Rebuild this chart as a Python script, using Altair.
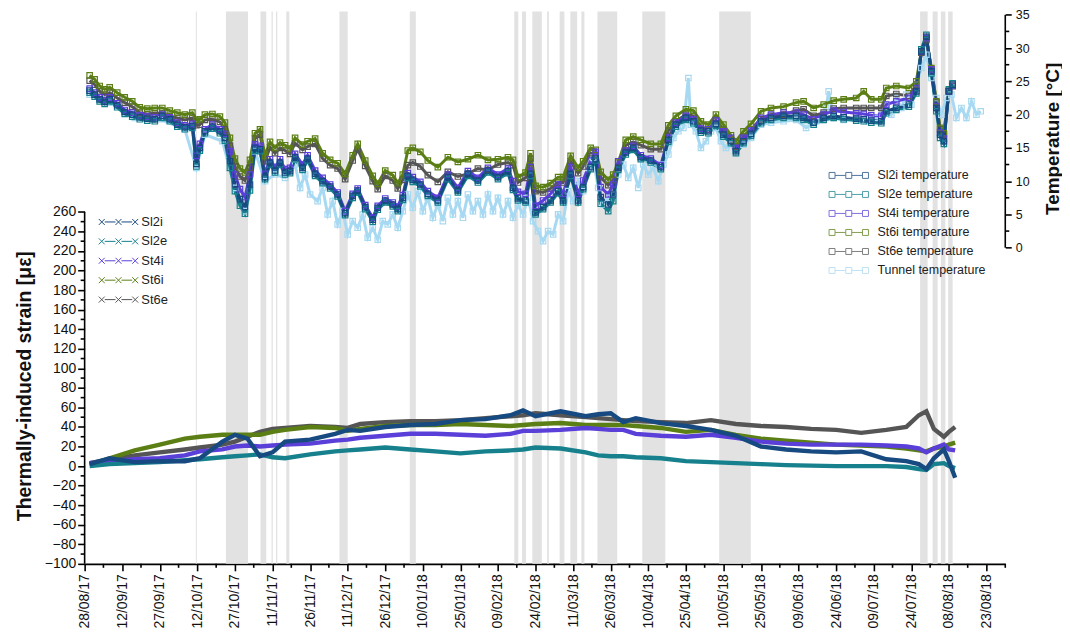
import altair as alt
import pandas as pd

# ---------------- data ----------------
START = (2017, 8, 28)  # day 0 of the x axis (28/08/17)

# temperature sampling days (days since 28/08/17)
T_DAYS = [2, 4, 6, 8, 10, 13, 16, 19, 22, 25,
          28, 31, 34, 37, 40, 43, 44.6, 46, 48, 51,
          54, 56, 58, 60, 62, 64, 66, 68, 70, 72,
          74, 76, 78, 80, 82, 84, 87, 89, 92, 95,
          98, 101, 104, 107, 109, 112, 115, 117, 120, 123,
          125, 127, 129, 131, 134, 137, 141, 145, 149, 153,
          157, 161, 165, 169, 171, 173, 176, 178, 180, 183,
          186, 189, 191, 194, 197, 199, 202, 204, 206, 209,
          211, 213, 216, 219, 222, 226, 230, 233, 236, 240,
          243, 246, 249, 252, 255, 258, 260, 263, 266, 270,
          274, 279, 284, 287, 291, 295, 299, 303, 308, 311,
          314, 318, 320, 324, 329, 332, 334, 336, 338, 340,
          341.5, 343, 345, 346.5]

SL2I_TEMP = [23.6, 23.0, 22.3, 21.9, 22.3, 21.4, 20.4, 20.0, 19.6, 19.4,
             19.3, 19.8, 19.3, 18.5, 18.1, 18.3, 12.6, 15.0, 17.5, 18.2,
             17.5, 16.5, 13.0, 9.5, 7.3, 6.1, 9.5, 15.0, 14.8, 10.6,
             12.8, 11.6, 12.8, 11.3, 11.5, 13.6, 12.0, 13.4, 11.1, 10.0,
             9.2, 8.0, 5.2, 7.8, 8.6, 6.1, 4.2, 6.0, 7.1, 6.5,
             5.8, 7.5, 10.8, 10.2, 9.5, 8.1, 7.1, 10.6, 8.6, 11.1,
             10.1, 11.6, 10.6, 11.5, 9.0, 7.4, 7.1, 11.1, 5.3, 6.1,
             7.1, 8.5, 7.1, 11.1, 7.1, 9.1, 12.1, 13.4, 7.6, 6.5,
             8.0, 12.0, 14.3, 15.0, 13.6, 13.1, 12.1, 16.2, 18.5, 19.5,
             19.0, 17.6, 17.5, 18.6, 17.0, 16.0, 14.5, 16.0, 17.1, 19.0,
             19.5, 19.8, 19.8, 19.5, 18.8, 19.5, 19.8, 19.6, 19.4, 19.3,
             19.1, 19.0, 20.5, 21.0, 21.5, 23.5, 29.5, 31.7, 26.5, 21.0,
             17.0, 16.0, 23.5, 24.5]

SL2E_TEMP = [23.3, 22.7, 22.0, 21.6, 22.0, 21.1, 20.1, 19.7, 19.3, 19.1,
             19.0, 19.5, 19.0, 18.2, 17.8, 18.0, 12.2, 14.6, 17.2, 17.9,
             17.2, 16.1, 12.0, 8.5, 6.3, 5.1, 8.6, 14.6, 14.5, 10.3,
             12.5, 11.3, 12.5, 11.0, 11.2, 13.3, 11.7, 13.1, 10.8, 9.7,
             8.9, 7.7, 4.9, 7.5, 8.3, 5.8, 3.9, 5.7, 6.8, 6.2,
             5.5, 7.2, 10.5, 9.9, 9.2, 7.8, 6.8, 10.3, 8.3, 10.8,
             9.8, 11.3, 10.3, 11.2, 8.7, 7.1, 6.8, 10.8, 5.0, 5.8,
             6.8, 8.2, 6.8, 10.8, 6.8, 8.8, 11.8, 13.1, 6.6, 5.5,
             7.0, 11.7, 14.0, 14.7, 13.3, 12.8, 11.8, 15.9, 18.2, 19.2,
             18.7, 17.3, 17.2, 18.3, 16.7, 15.7, 14.2, 15.7, 16.8, 18.7,
             19.2, 19.5, 19.5, 19.2, 18.5, 19.2, 19.5, 19.3, 19.1, 19.0,
             18.8, 18.7, 20.2, 20.7, 21.2, 23.2, 29.8, 32.0, 26.2, 20.5,
             16.5, 15.6, 23.8, 24.7]

ST4I_TEMP = [23.9, 23.3, 22.6, 22.2, 22.6, 21.7, 20.7, 20.3, 19.9, 19.7,
             19.6, 20.1, 19.6, 18.8, 18.4, 18.6, 13.8, 15.6, 17.8, 18.5,
             17.8, 17.1, 14.5, 11.0, 8.8, 7.6, 11.0, 15.5, 15.3, 11.1,
             13.3, 12.1, 13.3, 11.8, 12.0, 14.1, 12.5, 13.9, 11.6, 10.5,
             9.5, 8.3, 5.5, 8.1, 8.9, 6.4, 4.5, 6.3, 7.4, 6.8,
             6.2, 7.9, 11.2, 10.6, 9.9, 8.5, 7.5, 11.0, 9.0, 11.5,
             10.5, 12.0, 11.0, 11.9, 10.0, 8.4, 8.1, 12.1, 6.3, 7.1,
             8.1, 9.5, 8.1, 12.1, 8.1, 10.1, 13.1, 14.4, 9.1, 8.0,
             9.5, 13.0, 14.6, 15.3, 13.9, 13.4, 12.4, 16.5, 18.8, 19.8,
             19.3, 17.9, 17.8, 19.1, 17.5, 16.5, 15.0, 16.5, 17.6, 19.5,
             20.0, 20.3, 20.3, 20.0, 19.3, 20.0, 20.6, 20.4, 20.2, 20.1,
             19.9, 19.8, 21.5, 22.0, 22.5, 24.0, 29.5, 31.5, 26.8, 21.3,
             17.3, 16.4, 23.5, 24.3]

ST6I_TEMP = [25.9, 25.3, 24.3, 23.8, 24.1, 23.3, 22.6, 22.0, 21.1, 20.9,
             21.0, 21.0, 20.6, 20.3, 20.0, 20.3, 19.2, 19.3, 20.0, 20.1,
             19.7, 18.8, 16.5, 13.4, 11.9, 11.3, 13.2, 17.2, 17.8, 13.8,
             15.9, 15.0, 15.8, 15.4, 14.9, 16.5, 15.5, 16.0, 16.4, 14.2,
             13.2, 12.7, 11.1, 13.9, 15.6, 13.1, 10.8, 9.6, 11.6, 10.9,
             9.7, 11.0, 14.6, 15.0, 14.4, 13.1, 12.1, 13.6, 12.9, 13.3,
             13.9, 13.2, 13.3, 13.6, 13.2, 10.6, 11.3, 14.2, 9.3, 9.1,
             9.7, 10.6, 10.6, 13.8, 12.0, 13.0, 15.0, 14.7, 11.4, 10.2,
             11.0, 12.8, 16.2, 16.7, 16.2, 15.6, 15.6, 18.4, 19.8, 20.8,
             20.6, 19.0, 18.5, 20.0, 18.5, 16.9, 16.0, 17.5, 18.6, 20.5,
             21.0, 21.2, 21.8, 22.0, 21.0, 21.5, 22.1, 22.3, 22.5, 23.5,
             22.3, 22.3, 24.0, 24.3, 24.0, 25.0, 29.5, 31.5, 27.0, 22.0,
             18.0, 17.2, 23.5, 24.3]

ST6E_TEMP = [25.1, 24.5, 23.5, 23.0, 23.3, 22.5, 21.8, 21.2, 20.3, 20.1,
             20.2, 20.2, 19.8, 19.5, 19.2, 19.5, 18.4, 18.5, 19.2, 19.3,
             18.9, 17.8, 15.3, 12.2, 10.7, 10.1, 12.0, 16.4, 17.0, 13.0,
             15.1, 14.2, 15.0, 14.6, 14.1, 15.7, 14.7, 15.2, 15.6, 13.4,
             12.4, 11.9, 10.3, 13.1, 14.8, 12.3, 10.0, 8.8, 10.8, 10.1,
             8.9, 10.2, 12.4, 12.8, 12.2, 10.9, 9.9, 11.4, 10.7, 11.1,
             11.9, 11.7, 12.5, 12.8, 12.4, 9.8, 10.5, 13.4, 8.5, 8.3,
             8.9, 9.8, 9.8, 13.0, 11.2, 12.2, 14.2, 13.9, 10.6, 9.4,
             10.2, 12.0, 15.4, 15.9, 15.4, 14.8, 14.8, 17.6, 19.0, 20.0,
             19.8, 18.2, 17.7, 19.2, 17.7, 16.1, 15.2, 16.7, 17.8, 19.3,
             19.8, 20.0, 20.6, 20.8, 19.8, 20.3, 20.9, 21.0, 21.0, 21.0,
             21.0, 21.0, 22.8, 23.1, 22.8, 24.5, 29.3, 31.2, 26.8, 21.8,
             17.8, 17.0, 23.6, 24.3]

TUNNEL_DAYS = [2, 10, 20, 30, 40, 44.6, 48, 55, 60, 64,
               68, 72, 76, 80, 84, 86, 88, 90, 93, 95,
               97, 99, 101, 103, 105, 107, 109, 111, 113, 115,
               117, 119, 121, 123, 125, 127, 129, 131, 133, 135,
               137, 139, 141, 143, 145, 147, 149, 151, 153, 155,
               157, 159, 161, 163, 165, 167, 169, 171, 173, 175,
               177, 179, 181, 183, 185, 187, 189, 191, 193, 195,
               197, 199, 201, 203, 205, 207, 209, 211, 213, 215,
               217, 219, 221, 223, 225, 227, 229, 231, 233, 235,
               237, 239, 241, 242, 244, 246, 248, 250, 252, 254,
               256, 258, 260, 263, 266, 270, 274, 279, 284, 288,
               292, 296, 297, 299, 303, 308, 312, 316, 320, 322,
               324, 326, 328, 330, 332, 334, 336, 338, 340, 342,
               344, 346, 348, 350, 352, 354, 356, 357.7]

TUNNEL_TEMP = [23.0, 21.8, 19.5, 19.3, 17.8, 12.0, 17.0, 16.0, 9.0, 5.5,
               14.5, 10.0, 11.0, 10.5, 12.5, 9.0, 11.0, 8.0, 7.0, 9.0,
               5.0, 7.0, 3.5, 5.5, 2.0, 4.0, 3.0, 5.0, 1.5, 3.0,
               1.2, 4.0, 3.5, 5.0, 3.0, 5.5, 8.0, 6.0, 8.5, 5.5,
               7.5, 4.5, 6.5, 4.0, 7.5, 5.0, 7.0, 4.5, 8.0, 5.5,
               7.0, 5.0, 8.0, 5.5, 7.5, 5.0, 7.0, 4.5, 6.5, 5.0,
               7.5, 4.0, 2.5, 1.0, 2.5, 2.0, 5.0, 4.0, 8.5, 7.0,
               10.0, 8.5, 12.0, 13.5, 9.0, 6.5, 7.5, 8.0, 11.0, 12.5,
               10.5, 12.0, 9.0, 12.5, 11.0, 12.0, 10.0, 12.5, 14.0, 16.5,
               17.5, 18.0, 25.5, 18.5, 17.5, 15.0, 16.0, 17.5, 18.0, 16.0,
               15.0, 15.5, 14.5, 15.5, 16.5, 18.5, 18.8, 19.0, 19.2, 18.0,
               19.0, 21.0, 23.5, 19.5, 19.2, 19.3, 19.0, 19.5, 21.5, 20.0,
               22.5, 21.0, 23.0, 21.5, 24.5, 27.0, 29.0, 25.5, 22.5, 20.0,
               22.5, 23.0, 19.5, 21.0, 19.5, 22.0, 20.0, 20.5]

# strain sampling days
S_DAYS = [2, 10, 20, 30, 40, 46, 55, 60, 65, 70,
          75, 80, 90, 100, 105, 110, 120, 130, 140, 150,
          160, 170, 175, 180, 190, 200, 205, 210, 215, 220,
          230, 240, 250, 260, 270, 280, 290, 300, 310, 320,
          328, 333, 336, 339, 343, 345, 347.5]

SL2I_STRAIN = [2, 8, 4, 5, 5, 8, 25, 32, 28, 10,
               14, 25, 27, 33, 37, 36, 40, 42, 43, 47,
               48, 52, 57, 51, 56, 51, 53, 54, 45, 49,
               44, 41, 37, 31, 20, 17, 15, 14, 15, 7,
               5, 2, -3, 8, 17, 5, -12]
SL2E_STRAIN = [0, 2, 3, 4, 6, 7, 9, 10, 11, 12,
               9, 8, 12, 15, 16, 17, 19, 17, 15, 13,
               15, 16, 17, 19, 18, 14, 11, 10, 10, 9,
               8, 5, 4, 3, 2, 1, 0.5, 0, 0, 0,
               -1, -3, -4, 2, 3, 0, -2]
ST4I_STRAIN = [3, 5, 7, 8, 11, 15, 17, 20, 21, 20,
               21, 22, 23, 26, 27, 29, 31, 33, 33, 32,
               31, 33, 36, 36, 37, 39, 38, 37, 37, 33,
               31, 30, 32, 29, 25, 23, 22, 22, 22, 21,
               20, 18, 14, 18, 22, 17, 16]
ST6I_STRAIN = [1, 8, 16, 22, 28, 30, 32, 32, 32, 32,
               35, 37, 40, 39, 36, 38, 41, 42, 42, 43,
               42, 41, 42, 43, 44, 42, 42, 42, 42, 41,
               39, 35, 37, 32, 28, 26, 24, 22, 21, 20,
               18, 16, 15, 18, 20, 22, 24]
ST6E_STRAIN = [3, 7, 11, 14, 17, 19, 22, 25, 30, 35,
               38, 39, 41, 40, 39, 43, 45, 46, 46, 47,
               49, 51, 52, 54, 52, 50, 49, 48, 47, 46,
               45, 44, 47, 43, 41, 40, 38, 37, 34, 37,
               40, 52, 56, 38, 30, 35, 40]

# shaded periods (days since 28/08/17)
BAND_START = [44.4, 56.4, 70.2, 74.6, 76.4, 80.5, 101.7, 129.8, 171.5, 174.6, 178.7,
              184.6, 189.6, 193.9, 198.3, 204.7, 222.6, 253.3, 333.5, 338.5, 341.8, 344.7]
BAND_END = [44.8, 65.2, 72.5, 75.1, 76.9, 81.7, 105.0, 132.2, 173.1, 176.2, 182.5,
            185.3, 191.5, 196.6, 199.5, 212.6, 231.8, 265.9, 336.5, 340.5, 343.6, 346.5]

STRAIN_NAMES = ["Sl2i", "Sl2e", "St4i", "St6i", "St6e"]
TEMP_NAMES = ["Sl2i temperature", "Sl2e temperature", "St4i temperature",
              "St6i temperature", "St6e temperature", "Tunnel temperature"]
SERIES_COLORS = ["#174a80", "#16808d", "#5a3fd8", "#5b7f14", "#555555"]
TUNNEL_COLOR = "#a7d9f2"

X_MAJOR = list(range(0, 361, 15))
X_MINOR = [7.5 + 15 * i for i in range(25)]
STRAIN_MAJOR = list(range(-100, 261, 20))
STRAIN_MINOR = list(range(-90, 251, 20))
TEMP_MAJOR = list(range(0, 36, 5))
TEMP_MINOR = [2.5 + 5 * i for i in range(7)]

for arr in (SL2I_TEMP, SL2E_TEMP, ST4I_TEMP, ST6I_TEMP, ST6E_TEMP):
    assert len(arr) == len(T_DAYS)
assert len(TUNNEL_TEMP) == len(TUNNEL_DAYS)
for arr in (SL2I_STRAIN, SL2E_STRAIN, ST4I_STRAIN, ST6I_STRAIN, ST6E_STRAIN):
    assert len(arr) == len(S_DAYS)

# ---------------- tables ----------------
W, H = 925, 555

temp_rows = []
temp_rows.append(pd.DataFrame({"day": TUNNEL_DAYS, "value": TUNNEL_TEMP, "series": TEMP_NAMES[5]}))
for name, vals in [(TEMP_NAMES[4], ST6E_TEMP), (TEMP_NAMES[3], ST6I_TEMP),
                   (TEMP_NAMES[2], ST4I_TEMP), (TEMP_NAMES[1], SL2E_TEMP),
                   (TEMP_NAMES[0], SL2I_TEMP)]:
    temp_rows.append(pd.DataFrame({"day": T_DAYS, "value": vals, "series": name}))
temp_df = pd.concat(temp_rows, ignore_index=True)

strain_rows = []
for name, vals in [("St6e", ST6E_STRAIN), ("St6i", ST6I_STRAIN), ("St4i", ST4I_STRAIN),
                   ("Sl2e", SL2E_STRAIN), ("Sl2i", SL2I_STRAIN)]:
    strain_rows.append(pd.DataFrame({"day": S_DAYS, "value": vals, "series": name}))
strain_df = pd.concat(strain_rows, ignore_index=True)

bands_df = pd.DataFrame({"day": BAND_START, "day_end": BAND_END})

# ---------------- scales / axes ----------------
x_scale = alt.Scale(domain=[0, 367.5], nice=False, zero=False)
strain_scale = alt.Scale(domain=[-100, 465], nice=False, zero=False)
temp_scale = alt.Scale(domain=[-47.5, 35.5], nice=False, zero=False)

label_expr = "utcFormat(utc(%d, %d, %d) + datum.value * 86400000, '%%d/%%m/%%y')" % (
    START[0], START[1] - 1, START[2])

x_axis = alt.Axis(values=X_MAJOR, labelExpr=label_expr, labelAngle=270, labelAlign="right",
                  labelBaseline="middle", labelFontSize=14, labelPadding=3, tickSize=7,
                  tickWidth=1.6, tickColor="black", domainColor="black", domainWidth=1.6,
                  grid=False, title=None)

left_axis = alt.Axis(orient="left", values=STRAIN_MAJOR, domain=False, tickSize=7, tickWidth=1.6,
                     tickColor="black", labelFontSize=14, labelPadding=2, grid=False,
                     title="Thermally-induced strain [με]", titleFontSize=19.5, titleFontWeight="bold",
                     titleAngle=270, titleX=-60, titleY=376, titleAlign="center",
                     titleBaseline="middle")

right_axis = alt.Axis(orient="right", values=TEMP_MAJOR, domain=False, tickSize=6, tickWidth=1.6,
                      tickColor="black", labelFontSize=12.5, labelPadding=4, grid=False,
                      title="Temperature [°C]", titleFontSize=19, titleFontWeight="bold",
                      titleAngle=270, titleX=47, titleY=127.5, titleAlign="center",
                      titleBaseline="middle")

CROSS_PATH = ("M-6.6,-1L-4.6,1M-6.6,1L-4.6,-1M-4.6,0H-1M-1,-1L1,1M-1,1L1,-1"
              "M1,0H4.6M4.6,-1L6.6,1M4.6,1L6.6,-1")
SQUARE_PATH = ("M-6.6,-1H-4.6V1H-6.6ZM-4.6,0H-1M-1,-1H1V1H-1ZM1,0H4.6M4.6,-1H6.6V1H4.6Z")

strain_legend = alt.Legend(title=None, orient="none", legendX=27.5, legendY=205,
                           symbolType=CROSS_PATH, symbolSize=36, symbolStrokeWidth=1,
                           labelFontSize=13, labelOffset=16.5, rowPadding=5.5, padding=0,
                           labelColor="#222")
temp_legend = alt.Legend(title=None, orient="none", legendX=761.5, legendY=158.5,
                         symbolType=SQUARE_PATH, symbolSize=36, symbolStrokeWidth=1,
                         symbolOpacity=0.75, labelFontSize=12.5, labelOffset=22.5,
                         rowPadding=6.1, padding=0, labelColor="#222")

X = alt.X("day:Q", scale=x_scale, axis=x_axis)

# ---------------- layers ----------------
bands = alt.Chart(bands_df).mark_rect(color="#e2e2e2").encode(x=X, x2="day_end:Q")

temp_base = alt.Chart(temp_df).encode(
    x=X,
    y=alt.Y("value:Q", scale=temp_scale, axis=right_axis),
    color=alt.Color("series:N", scale=alt.Scale(domain=TEMP_NAMES,
                                                range=SERIES_COLORS + [TUNNEL_COLOR]),
                    legend=temp_legend),
)
temp = alt.layer(
    temp_base.mark_line(strokeWidth=3),
    temp_base.mark_point(shape="square", filled=False, size=30, strokeWidth=1.2, opacity=1),
)

strain = alt.Chart(strain_df).mark_line(strokeWidth=4.4).encode(
    x=X,
    y=alt.Y("value:Q", scale=strain_scale, axis=left_axis),
    color=alt.Color("series:N", scale=alt.Scale(domain=STRAIN_NAMES, range=SERIES_COLORS),
                    legend=strain_legend),
)

left_line = alt.Chart(pd.DataFrame({"lo": [STRAIN_MAJOR[0]], "hi": [STRAIN_MAJOR[-1]]})).mark_rule(
    color="black", strokeWidth=1.6).encode(
    x=alt.value(0), y=alt.Y("lo:Q", scale=strain_scale, axis=None), y2="hi:Q")
right_line = alt.Chart(pd.DataFrame({"lo": [TEMP_MAJOR[0]], "hi": [TEMP_MAJOR[-1]]})).mark_rule(
    color="black", strokeWidth=1.6).encode(
    x=alt.value(W), y=alt.Y("lo:Q", scale=temp_scale, axis=None), y2="hi:Q")

x_minor = alt.Chart(pd.DataFrame({"day": X_MINOR})).mark_rule(color="black", strokeWidth=1.6).encode(
    x=X, y=alt.value(H), y2=alt.value(H + 4))
left_minor = alt.Chart(pd.DataFrame({"v": STRAIN_MINOR})).mark_rule(color="black", strokeWidth=1.6).encode(
    y=alt.Y("v:Q", scale=strain_scale, axis=None), x=alt.value(-4), x2=alt.value(0))
right_minor = alt.Chart(pd.DataFrame({"v": TEMP_MINOR})).mark_rule(color="black", strokeWidth=1.6).encode(
    y=alt.Y("v:Q", scale=temp_scale, axis=None), x=alt.value(W), x2=alt.value(W + 4))

chart = alt.layer(
    bands, temp, strain, left_line, right_line, x_minor, left_minor, right_minor
).resolve_scale(
    y="independent", color="independent"
).properties(
    width=W, height=H,
    padding={"left": 77, "top": 2, "right": 57, "bottom": 66},
    autosize=alt.AutoSizeParams(type="none"),
).configure(
    font="Liberation Sans"
).configure_view(
    stroke=None, strokeWidth=0
).configure_axis(
    labelFont="Liberation Sans", titleFont="Liberation Sans", labelColor="#111", titleColor="#111"
).configure_legend(
    labelFont="Liberation Sans"
)

chart.save("out.html", embed_options={"renderer": "svg", "actions": False})
